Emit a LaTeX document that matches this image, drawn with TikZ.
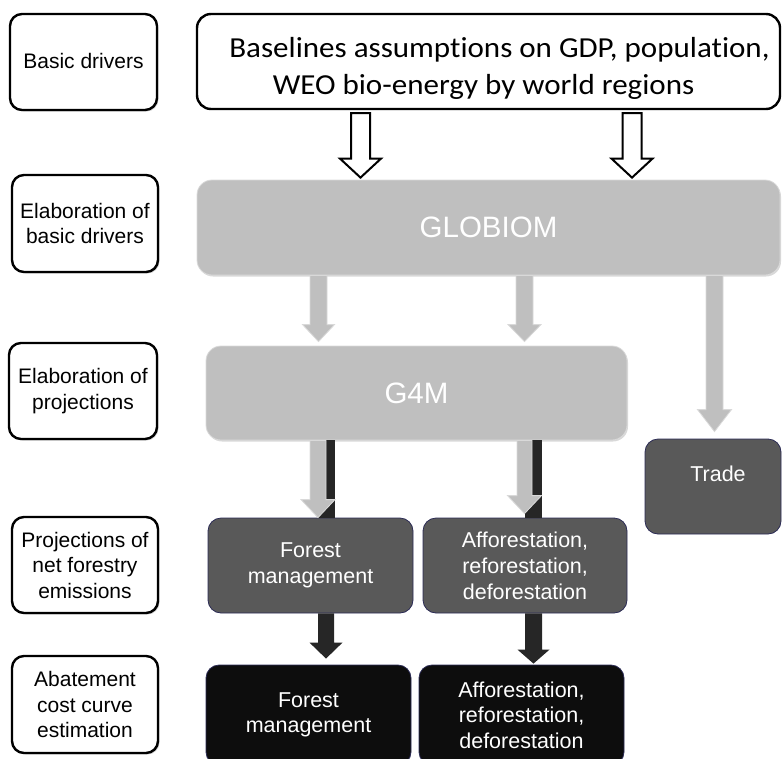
\documentclass[tikz,border=0pt]{standalone}
\usepackage{fontspec}
\setmainfont{Liberation Sans}
\newfontfamily\calibrifont[FakeStretch=1.07,Ligatures=NoCommon]{Carlito}
\usetikzlibrary{calc,shadows}
\definecolor{boxgray}{HTML}{BFBFBF}
\definecolor{boxedge}{HTML}{D9D9D9}
\definecolor{darkbox}{HTML}{595959}
\definecolor{navyedge}{HTML}{2B2B55}
\definecolor{blackbox}{HTML}{0D0D0D}
\definecolor{darkarrow}{HTML}{262626}
\newcommand\blockarr[7]{%
  \path[#1] let \p1=#3, \p2=#4 in
    ({(#2-#5)*1pt},\y1) -- ({(#2+#5)*1pt},\y1) -- ({(#2+#5)*1pt},{\y2+#7pt})
    -- ({(#2+#6)*1pt},{\y2+#7pt}) -- ({#2*1pt},\y2) -- ({(#2-#6)*1pt},{\y2+#7pt})
    -- ({(#2-#5)*1pt},{\y2+#7pt}) -- cycle;}
\begin{document}
\begin{tikzpicture}[x=1pt,y=-1pt,
  labelbox/.style={draw=black, line width=2.4pt, fill=white, rounded corners=12pt,
    align=center, inner sep=0pt, font=\fontsize{21}{25.5}\selectfont,
    drop shadow={shadow xshift=1.5pt, shadow yshift=-1.5pt, opacity=0.35}},
  topbox/.style={draw=black, line width=2.4pt, fill=white, rounded corners=14pt,
    align=center, inner sep=0pt, font=\calibrifont\fontsize{29}{37}\selectfont},
  graybox/.style={draw=boxedge, line width=0.8pt, fill=boxgray, rounded corners=15pt,
    text=white, inner sep=0pt, font=\fontsize{29.5}{34}\selectfont,
    drop shadow={shadow xshift=1pt, shadow yshift=-1.5pt, opacity=0.3}},
  dgbox/.style={draw=navyedge, line width=0.8pt, fill=darkbox, rounded corners=13pt,
    text=white, align=center, inner sep=0pt, font=\fontsize{21.5}{26}\selectfont},
  blkbox/.style={draw=navyedge, line width=0.8pt, fill=blackbox, rounded corners=13pt,
    text=white, align=center, inner sep=0pt, font=\fontsize{21.5}{25.5}\selectfont},
  openarr/.style={draw=black, line width=2pt, fill=white, line join=miter},
  grayarr/.style={draw=boxedge, line width=0.8pt, fill=boxgray},
  darkarr/.style={fill=darkarrow},
]
\useasboundingbox (0,0) rectangle (782,758);
\clip (0,0) rectangle (782,758);

% left labels
\node[labelbox, minimum width=147pt, minimum height=96pt] (l1) at (83.5,62) {\raisebox{1.5pt}{Basic drivers}};
\node[labelbox, minimum width=146pt, minimum height=97pt] (l2) at (85,223.5) {Elaboration of\\basic drivers};
\node[labelbox, minimum width=148pt, minimum height=96pt] (l3) at (83,391) {Elaboration of\\projections};
\node[labelbox, minimum width=146pt, minimum height=96pt] (l4) at (85,565) {Projections of\\net forestry\\emissions};
\node[labelbox, minimum width=146pt, minimum height=97pt] (l5) at (85,704.5) {Abatement\\cost curve\\estimation};

% main boxes
\node[topbox, minimum width=583pt, minimum height=95pt] (top) at (488.5,61.5)
  {\rule{0pt}{33pt}\hspace*{22pt}Baselines assumptions on GDP, population,\\WEO bio-energy by world regions\hspace*{10pt}};
\node[graybox, minimum width=583pt, minimum height=95pt] (globiom) at (488.5,227.5) {GLOBIOM};
\node[graybox, minimum width=421pt, minimum height=94pt] (g4m) at (416.5,393) {G4M};
\node[dgbox, minimum width=136pt, minimum height=95pt] (trade) at (713,486.5)
  {\raisebox{5.5pt}[0pt][0pt]{\hspace*{10pt}Trade}};
\node[dgbox, minimum width=205pt, minimum height=95pt] (fm1) at (310.5,565.5) {Forest\\management};
\node[dgbox, minimum width=204pt, minimum height=95pt] (af1) at (525,565.5)
  {Afforestation,\\reforestation,\\deforestation};
\node[blkbox, minimum width=205pt, minimum height=100pt] (fm2) at (308.5,715) {Forest\\management};
\node[blkbox, minimum width=205pt, minimum height=100pt] (af2) at (521.5,715)
  {Afforestation,\\reforestation,\\deforestation};

% open arrows: drivers -> GLOBIOM
\blockarr{openarr}{360.5}{($(top.south)+(0,3)$)}{($(globiom.north)+(0,-2)$)}{9.5}{20.5}{19}
\blockarr{openarr}{632}{($(top.south)+(0,3)$)}{($(globiom.north)+(0,-2)$)}{9.5}{20.5}{19}

% gray arrows: GLOBIOM -> G4M, Trade
\blockarr{grayarr}{318.5}{(globiom.south)}{($(g4m.north)+(0,-4)$)}{8.5}{16}{17}
\blockarr{grayarr}{524.5}{(globiom.south)}{($(g4m.north)+(0,-4)$)}{8.5}{16.5}{17}
\blockarr{grayarr}{714.5}{(globiom.south)}{($(trade.north)+(0,-7)$)}{8.5}{17}{22}

% G4M -> projections (dark shaft behind gray arrow)
\fill[darkarr] (318,0 |- g4m.south) rectangle (335,0 |- fm1.north);
\fill[darkarr] (525,0 |- g4m.south) rectangle (542,0 |- af1.north);
\blockarr{grayarr}{318}{(g4m.south)}{(fm1.north)}{8}{17}{18}
\blockarr{grayarr}{524.5}{(g4m.south)}{($(af1.north)+(0,-4)$)}{7.5}{17}{18}

% projections -> abatement
\blockarr{darkarr}{326}{(fm1.south)}{($(fm2.north)+(0,-6)$)}{8}{16.5}{16}
\blockarr{darkarr}{533.5}{(af1.south)}{($(af2.north)+(0,-1)$)}{8.5}{16}{14}
\end{tikzpicture}
\end{document}
